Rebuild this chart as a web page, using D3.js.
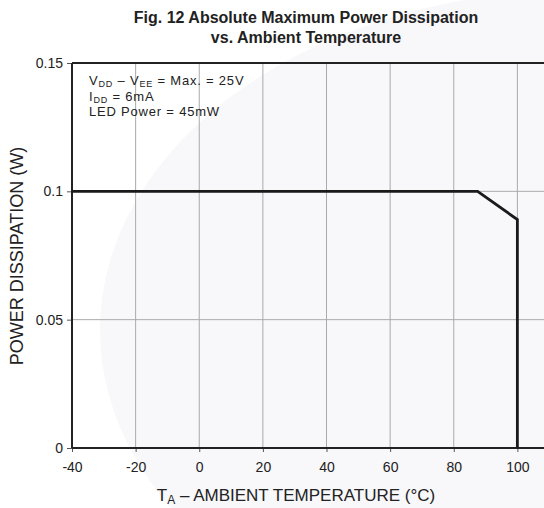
<!DOCTYPE html>
<html>
<head>
<meta charset="utf-8">
<script src="https://cdn.jsdelivr.net/npm/d3@7"></script>
<style>
  body { margin: 0; background: #fff; }
  text { font-family: "Liberation Sans", Arial, sans-serif; fill: #222; }
</style>
</head>
<body>
<div id="chart"></div>
<script>
// curve values
var temps = [-40, 87.5, 100, 100];
var power = [0.1, 0.1, 0.089, 0];
var xTicks = [-40, -20, 0, 20, 40, 60, 80, 100];
var xTickLabels = ["-40", "-20", "0", "20", "40", "60", "80", "100"];
var yTicks = [0, 0.05, 0.1, 0.15];
var yTickLabels = ["0", "0.05", "0.1", "0.15"];

var w = 544, h = 508;
var margin = { left: 72, top: 63, bottom: 60 };

var svg = d3.select("#chart").append("svg")
    .attr("width", w)
    .attr("height", h);

var x = d3.scaleLinear().domain([-40, 120]).range([margin.left, 581]);
var y = d3.scaleLinear().domain([0, 0.15]).range([h - margin.bottom, margin.top]);

// faint watermark
svg.append("ellipse")
    .attr("cx", 580).attr("cy", 330)
    .attr("rx", 480).attr("ry", 340)
    .attr("fill", "#f8f7fa");

// grid
svg.append("g").selectAll("line")
    .data(xTicks.slice(1))
    .enter().append("line")
    .attr("x1", function (d) { return x(d); })
    .attr("x2", function (d) { return x(d); })
    .attr("y1", y(0.15))
    .attr("y2", y(0))
    .attr("stroke", "#aaa")
    .attr("stroke-width", 1);

svg.append("g").selectAll("line")
    .data([0.05, 0.1])
    .enter().append("line")
    .attr("x1", x(-40))
    .attr("x2", w)
    .attr("y1", function (d) { return y(d); })
    .attr("y2", function (d) { return y(d); })
    .attr("stroke", "#aaa")
    .attr("stroke-width", 1);

// axes
var xAxis = d3.axisBottom(x).tickValues(xTicks).tickSize(4)
    .tickFormat(function (d, i) { return xTickLabels[i]; });
var gx = svg.append("g")
    .attr("transform", "translate(0," + y(0) + ")")
    .call(xAxis);
gx.select(".domain").remove();
gx.selectAll(".tick line").attr("stroke", "#555");
gx.selectAll("text").attr("font-size", 14).attr("dy", "1.2em").style("fill", "#222");

var yAxis = d3.axisLeft(y).tickValues(yTicks).tickSize(5)
    .tickFormat(function (d, i) { return yTickLabels[i]; });
var gy = svg.append("g")
    .attr("transform", "translate(" + x(-40) + ",0)")
    .call(yAxis);
gy.select(".domain").remove();
gy.selectAll(".tick line").attr("stroke", "#555");
gy.selectAll("text").attr("font-size", 14).attr("x", -9).style("fill", "#222");

// frame
svg.append("line").attr("x1", x(-40)).attr("x2", x(-40)).attr("y1", y(0.15)).attr("y2", y(0))
    .attr("stroke", "#222").attr("stroke-width", 2);
svg.append("line").attr("x1", x(-40)).attr("x2", w).attr("y1", y(0.15)).attr("y2", y(0.15))
    .attr("stroke", "#222").attr("stroke-width", 2);
svg.append("line").attr("x1", x(-40)).attr("x2", w).attr("y1", y(0)).attr("y2", y(0))
    .attr("stroke", "#222").attr("stroke-width", 2);

// curve
var line = d3.line()
    .x(function (d, i) { return x(temps[i]); })
    .y(function (d) { return y(d); });
svg.append("path")
    .datum(power)
    .attr("d", line)
    .attr("fill", "none")
    .attr("stroke", "#1a1a1a")
    .attr("stroke-width", 2.8)
    .attr("stroke-linejoin", "miter");

// title
var title = svg.append("text")
    .attr("x", 306).attr("y", 23)
    .attr("text-anchor", "middle")
    .attr("font-size", 16).attr("font-weight", "bold");
title.append("tspan").attr("x", 306).text("Fig. 12 Absolute Maximum Power Dissipation");
title.append("tspan").attr("x", 306).attr("dy", 20).text("vs. Ambient Temperature");

// conditions note
var note = svg.append("text").attr("font-size", 13).attr("letter-spacing", 0.8);
var l1 = note.append("tspan").attr("x", 89).attr("y", 85);
l1.append("tspan").text("V");
l1.append("tspan").attr("font-size", 9).attr("dy", 2).text("DD");
l1.append("tspan").attr("dy", -2).text(" – V");
l1.append("tspan").attr("font-size", 9).attr("dy", 2).text("EE");
l1.append("tspan").attr("dy", -2).text(" = Max. = 25V");
var l2 = note.append("tspan").attr("x", 89).attr("y", 100.5);
l2.append("tspan").text("I");
l2.append("tspan").attr("font-size", 9).attr("dy", 2).text("DD");
l2.append("tspan").attr("dy", -2).text(" = 6mA");
note.append("tspan").attr("x", 89).attr("y", 116).text("LED Power = 45mW");

// axis titles
var xt = svg.append("text")
    .attr("x", 296).attr("y", 501)
    .attr("text-anchor", "middle")
    .attr("font-size", 17);
xt.append("tspan").text("T");
xt.append("tspan").attr("font-size", 12).attr("dy", 3).text("A");
xt.append("tspan").attr("dy", -3).text(" – AMBIENT TEMPERATURE (°C)");

svg.append("text")
    .attr("transform", "translate(23,256) rotate(-90)")
    .attr("text-anchor", "middle")
    .attr("font-size", 18)
    .text("POWER DISSIPATION (W)");
</script>
</body>
</html>
